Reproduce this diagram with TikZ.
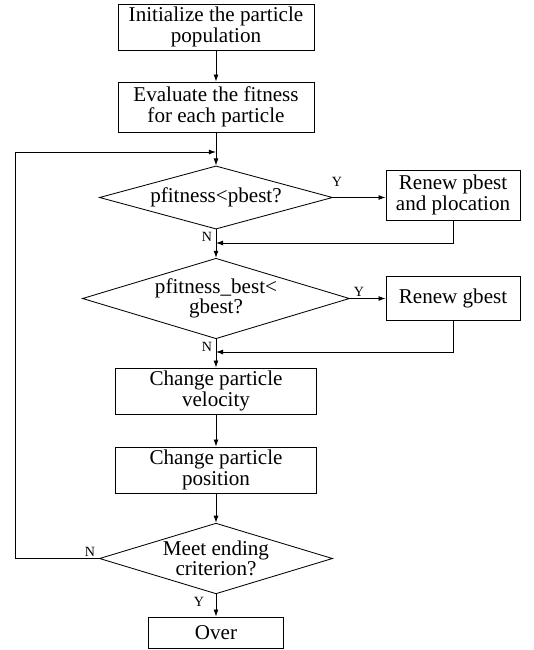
\documentclass[tikz,border=0pt]{standalone}
\usepackage{fontspec}
\setmainfont{Liberation Serif}
\usetikzlibrary{shapes.geometric,arrows.meta}

\begin{document}
\begin{tikzpicture}[
        x=0.025cm, y=-0.025cm,
        >={Latex[length=5pt,width=3.5pt]},
        line width=0.6pt,
        caixa/.style={rectangle, draw, align=center, inner sep=1pt, font=\fontsize{15}{14.5}\selectfont},
        decisao/.style={diamond, draw, align=center, inner sep=0pt, aspect=3, font=\fontsize{15}{14.5}\selectfont},
        rotulo/.style={font=\fontsize{10}{10}\selectfont, inner sep=0pt}
    ]

        \useasboundingbox (0,0) rectangle (533,650);

        % ==================================================
        % FLUXO PRINCIPAL
        % ==================================================

        \node[caixa, minimum width=4.9cm, minimum height=1.15cm] (ini) at (216,27) {Initialize the particle\\population};
        \node[caixa, minimum width=4.9cm, minimum height=1.25cm] (aval) at (216,107) {Evaluate the fitness\\for each particle};
        \node[decisao, minimum width=5.825cm, minimum height=1.525cm] (dp) at (216,197.5) {pfitness<pbest?};
        \node[decisao, minimum width=6.675cm, minimum height=1.925cm] (dg) at (216,298.5) {pfitness\_best<\\gbest?};
        \node[caixa, minimum width=5.025cm, minimum height=1.15cm] (vel) at (216,391) {Change particle\\velocity};
        \node[caixa, minimum width=5.025cm, minimum height=1.15cm] (pos) at (216,470) {Change particle\\position};
        \node[decisao, minimum width=5.825cm, minimum height=1.675cm] (fim) at (216,558.5) {Meet ending\\criterion?};
        \node[caixa, minimum width=3.375cm, minimum height=0.775cm] (over) at (216,632.5) {Over};

        % Caixas laterais
        \node[caixa, minimum width=3.35cm, minimum height=1.25cm] (rp) at (453,195) {Renew pbest\\and plocation};
        \node[caixa, minimum width=3.35cm, minimum height=1.1cm] (rg) at (453,298) {Renew gbest};

        % Pontos de junção
        \coordinate (jl) at (216,152);
        \coordinate (j1) at (216,243);
        \coordinate (j2) at (216,352);

        % Setas
        \draw[->] (ini) -- (aval);
        \draw[->] (aval) -- (dp);
        \draw[->] (dp) -- (dg);
        \draw[->] (dg) -- (vel);
        \draw[->] (vel) -- (pos);
        \draw[->] (pos) -- (fim);
        \draw[->] (fim) -- (over);
        \draw[->] (dp.east) -- (rp.west |- dp.east);
        \draw[->] (dg.east) -- (rg.west |- dg.east);
        \draw[->] (rp.south) |- (j1);
        \draw[->] (rg.south) |- (j2);
        \draw[->] (fim.west) -- (15,558.5) -- (15,152) -- (jl);

        % Rótulos
        \node[rotulo] at (337,182) {Y};
        \node[rotulo] at (207,237) {N};
        \node[rotulo] at (359,292) {Y};
        \node[rotulo] at (207,347) {N};
        \node[rotulo] at (90,552) {N};
        \node[rotulo] at (199,602) {Y};

    \end{tikzpicture}
\end{document}
